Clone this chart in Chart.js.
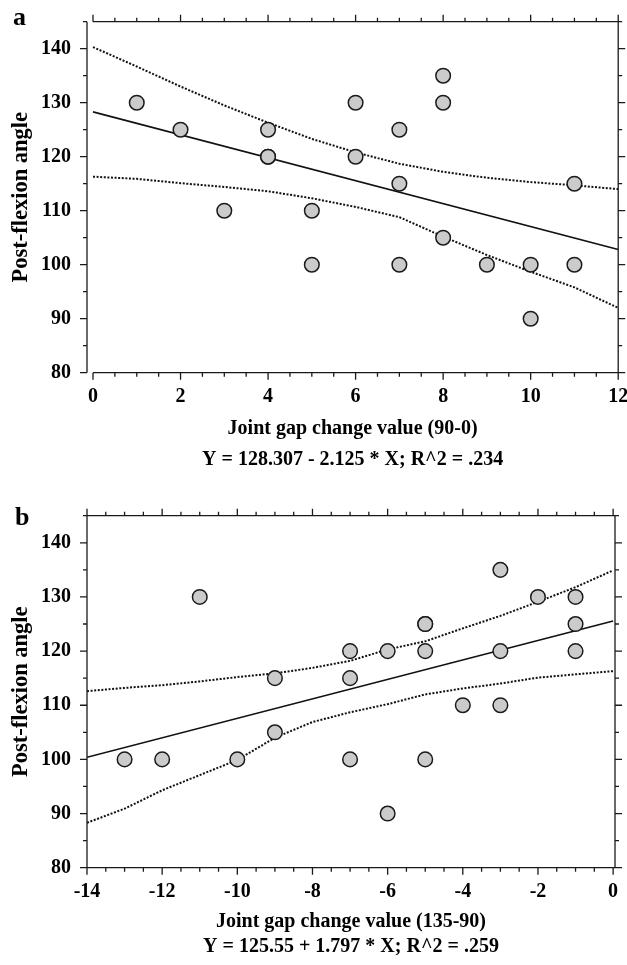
<!DOCTYPE html>
<html lang="en">
  <head>
    <meta charset="UTF-8" />
    <meta name="viewport" content="width=device-width, initial-scale=1.0" />
    <title>Post-flexion angle vs joint gap change</title>
    <script src="https://cdn.jsdelivr.net/npm/chart.js"></script>
    <style>
      body { margin: 0; background: #fff; overflow: hidden; }
      .panel { position: absolute; left: 0; }
    </style>
  </head>
  <body>
    <div class="panel" style="top: 0"><canvas id="chartA" width="627" height="475"></canvas></div>
    <div class="panel" style="top: 475px"><canvas id="chartB" width="627" height="490"></canvas></div>
    <script>
      // shared y axis
      const yTicks = [80, 90, 100, 110, 120, 130, 140];

      // panel a: joint gap change (90-0)
      const aX = [1, 2, 3, 4, 4, 4, 5, 5, 6, 6, 7, 7, 7, 8, 8, 8, 9, 10, 10, 11, 11];
      const aY = [130, 125, 110, 125, 120, 120, 110, 100, 130, 120, 125, 115, 100, 135, 130, 105, 100, 100, 90, 115, 100];
      const aFitX = [0, 12];
      const aFitY = [128.3, 102.8];
      const aBandX = [0, 1, 2, 3, 4, 5, 6, 7, 8, 9, 10, 11, 12];
      const aUpper = [140.3, 136.7, 133.0, 129.5, 126.3, 123.3, 120.8, 118.7, 117.2, 116.1, 115.3, 114.7, 114.0];
      const aLower = [116.3, 115.9, 115.1, 114.4, 113.6, 112.3, 110.7, 108.8, 105.2, 101.8, 98.7, 95.8, 92.0];
      const aXTicks = [0, 2, 4, 6, 8, 10, 12];

      // panel b: joint gap change (135-90)
      const bX = [-13, -12, -11, -10, -9, -9, -7, -7, -7, -6, -6, -5, -5, -5, -5, -4, -3, -3, -3, -2, -1, -1, -1];
      const bY = [100, 100, 130, 100, 115, 105, 120, 115, 100, 120, 90, 125, 125, 120, 100, 110, 135, 120, 110, 130, 130, 125, 120];
      const bFitX = [-14, 0];
      const bFitY = [100.4, 125.55];
      const bBandX = [-14, -13, -12, -11, -10, -9, -8, -7, -6, -5, -4, -3, -2, -1, 0];
      const bUpper = [112.6, 113.2, 113.7, 114.4, 115.2, 115.9, 116.9, 118.2, 120.3, 121.8, 124.2, 126.5, 129.1, 131.8, 134.9];
      const bLower = [88.3, 90.9, 94.3, 97.1, 99.9, 104.0, 106.9, 108.7, 110.2, 112.0, 113.1, 114.0, 115.1, 115.7, 116.3];
      const bXTicks = [-14, -12, -10, -8, -6, -4, -2, 0];

      const serif = '"Liberation Serif", "Times New Roman", serif';
      const ink = "#1a1a1a";

      // box with outside ticks on all four sides, plus the panel letter
      const frame = {
        id: "frame",
        afterDraw(chart, args, o) {
          const { ctx, chartArea: a } = chart;
          const x = chart.scales.x, y = chart.scales.y;
          const x0 = x.getPixelForValue(o.xMajor[0]);
          ctx.save();
          ctx.strokeStyle = ink;
          ctx.lineWidth = 1.3;
          ctx.beginPath();
          ctx.moveTo(a.left, a.top); ctx.lineTo(a.left, a.bottom);
          ctx.moveTo(a.right, a.top); ctx.lineTo(a.right, a.bottom);
          ctx.moveTo(x0, a.top); ctx.lineTo(a.right, a.top);
          ctx.moveTo(x0, a.bottom); ctx.lineTo(a.right, a.bottom);
          const last = o.xMajor[o.xMajor.length - 1];
          for (let v = o.xMajor[0]; v <= last + 0.01; v += 0.5) {
            const p = x.getPixelForValue(v);
            const len = v % 2 === 0 ? 7 : 4;
            ctx.moveTo(p, a.bottom); ctx.lineTo(p, a.bottom + len);
            ctx.moveTo(p, a.top); ctx.lineTo(p, a.top - len);
          }
          for (let v = 80; v <= 145; v += 5) {
            const p = y.getPixelForValue(v);
            const len = v % 10 === 0 ? 7 : 4;
            ctx.moveTo(a.left, p); ctx.lineTo(a.left - len, p);
            ctx.moveTo(a.right, p); ctx.lineTo(a.right + len, p);
          }
          ctx.stroke();
          ctx.fillStyle = "#000";
          ctx.font = "bold 26px " + serif;
          ctx.textBaseline = "alphabetic";
          ctx.fillText(o.letter, o.letterX, o.letterY);
          ctx.restore();
        },
      };

      function toPoints(xs, ys) {
        return xs.map((v, i) => ({ x: v, y: ys[i] }));
      }

      function panel(id, p) {
        const font = { family: serif, size: 20, weight: "bold" };
        return new Chart(document.getElementById(id), {
          type: "scatter",
          data: {
            datasets: [
              {
                data: toPoints(p.x, p.y),
                pointRadius: 7.3,
                pointHoverRadius: 7.3,
                pointBackgroundColor: "#cbcbcb",
                pointBorderColor: ink,
                pointBorderWidth: 1.5,
              },
              {
                data: toPoints(p.fitX, p.fitY),
                showLine: true,
                pointRadius: 0,
                borderColor: "#111",
                borderWidth: 1.6,
              },
              {
                data: toPoints(p.bandX, p.upper),
                showLine: true,
                pointRadius: 0,
                borderColor: "#111",
                borderWidth: 2,
                borderDash: [2, 1.6],
              },
              {
                data: toPoints(p.bandX, p.lower),
                showLine: true,
                pointRadius: 0,
                borderColor: "#111",
                borderWidth: 2,
                borderDash: [2, 1.6],
              },
            ],
          },
          options: {
            responsive: false,
            animation: false,
            events: [],
            layout: { padding: p.pad },
            plugins: {
              legend: { display: false },
              tooltip: { enabled: false },
              frame: { xMajor: p.xTicks, letter: p.letter, letterX: p.letterX, letterY: p.letterY },
            },
            scales: {
              x: {
                type: "linear",
                min: p.xMin,
                max: p.xMax,
                grid: { display: false, drawTicks: false },
                border: { display: false },
                afterBuildTicks: (s) => { s.ticks = p.xTicks.map((v) => ({ value: v })); },
                afterFit: (s) => { s.height = p.xAxisH; s.paddingLeft = 0; s.paddingRight = 0; },
                ticks: { padding: p.xTickPad, autoSkip: false, maxRotation: 0, color: "#000", font, callback: (v) => String(v) },
                title: {
                  display: true,
                  text: [p.xTitle, p.eq],
                  color: "#000",
                  font: { family: serif, size: 20, weight: "bold", lineHeight: p.titleLH },
                  padding: { top: 0, bottom: p.titlePadB },
                },
              },
              y: {
                min: 80,
                max: 145,
                grid: { display: false, drawTicks: false },
                border: { display: false },
                afterBuildTicks: (s) => { s.ticks = yTicks.map((v) => ({ value: v })); },
                afterFit: (s) => { s.width = 87; s.paddingTop = 0; s.paddingBottom = 0; },
                ticks: { padding: 16, color: "#000", font, callback: (v) => String(v) },
                title: {
                  display: true,
                  text: "Post-flexion angle",
                  color: "#000",
                  font: { family: serif, size: 22.5, weight: "bold" },
                  padding: { top: 8, bottom: 0 },
                },
              },
            },
          },
          plugins: [frame],
        });
      }

      panel("chartA", {
        x: aX, y: aY, fitX: aFitX, fitY: aFitY, bandX: aBandX, upper: aUpper, lower: aLower,
        xTicks: aXTicks, xMin: -0.137, xMax: 12,
        xTitle: "Joint gap change value (90-0)",
        eq: "Y = 128.307 - 2.125 * X; R^2 = .234",
        pad: { top: 21.7, right: 8, bottom: 0, left: 0 },
        xAxisH: 102.3, xTickPad: 12, titleLH: 1.58, titlePadB: -1,
        letter: "a", letterX: 13, letterY: 25,
      });

      panel("chartB", {
        x: bX, y: bY, fitX: bFitX, fitY: bFitY, bandX: bBandX, upper: bUpper, lower: bLower,
        xTicks: bXTicks, xMin: -14, xMax: 0.05,
        xTitle: "Joint gap change value (135-90)",
        eq: "Y = 125.55 + 1.797 * X; R^2 = .259",
        pad: { top: 40.7, right: 12, bottom: 0, left: 0 },
        xAxisH: 97.3, xTickPad: 12, titleLH: 1.25, titlePadB: 5.8,
        letter: "b", letterX: 15, letterY: 50,
      });
    </script>
  </body>
</html>
